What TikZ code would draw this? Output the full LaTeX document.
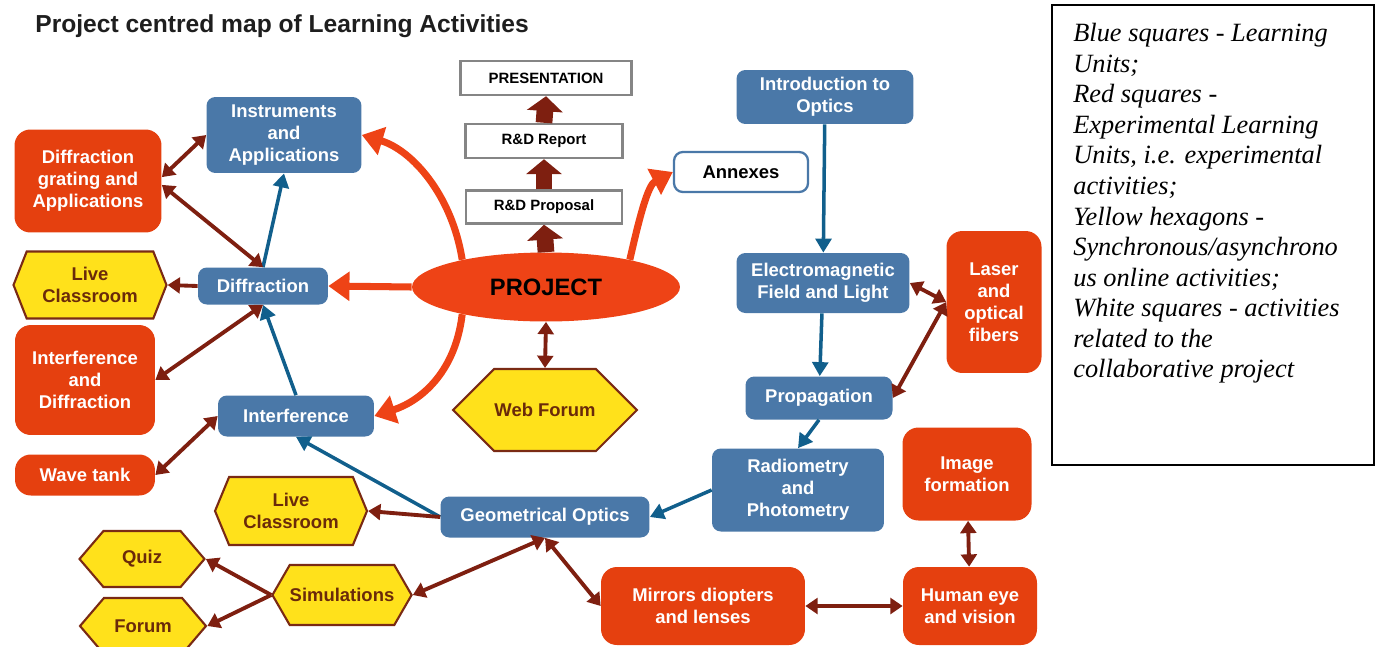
\documentclass[tikz,border=0pt]{standalone}
\usepackage{fontspec}
\setmainfont{Liberation Sans}
\newfontfamily\legendfont{Liberation Serif}
\usepackage{xcolor}
\definecolor{unitblue}{HTML}{4A78A8}
\definecolor{labred}{HTML}{E5400F}
\definecolor{hexyellow}{HTML}{FFE11B}
\definecolor{hexedge}{HTML}{7A2A14}
\definecolor{hextext}{HTML}{6A2A0A}
\definecolor{linkred}{HTML}{7E1F10}
\definecolor{arrblue}{HTML}{115F8C}
\definecolor{projorange}{HTML}{EE4316}
\definecolor{boxgray}{HTML}{858585}
\definecolor{titlegray}{HTML}{1E1E1E}
\usetikzlibrary{
  arrows.meta,
  shapes.geometric,
  shapes.symbols
}

\begin{document}
\begin{tikzpicture}[
  x=0.02cm, y=-0.02cm,
  every node/.style={
    font=\fontsize{10.5}{12.5}\selectfont\bfseries,
    align=center,
    inner sep=2pt
  },
  unit/.style={
    fill=unitblue,
    text=white,
    rounded corners=5pt
  },
  labunit/.style={
    fill=labred,
    text=white,
    rounded corners=9pt
  },
  online/.style={
    shape=signal,
    signal to=east and west,
    draw=hexedge,
    line width=1.2pt,
    fill=hexyellow,
    text=hextext
  },
  projbox/.style={
    draw=boxgray,
    line width=1.4pt,
    fill=white,
    font=\fontsize{8.5}{10}\selectfont\bfseries
  },
  arr/.style={
    -{Triangle[width=9pt,length=8pt]},
    line width=2pt,
    draw=arrblue
  },
  link/.style={
    {Triangle[width=9pt,length=7pt]}-{Triangle[width=9pt,length=7pt]},
    line width=2.2pt,
    draw=linkred
  },
  feed/.style={
    -{Triangle[width=9pt,length=7pt]},
    line width=2.2pt,
    draw=linkred
  },
  spoke/.style={
    -{Triangle[width=16pt,length=12pt]},
    line width=4pt,
    draw=projorange
  },
  stage/.style={
    -{Triangle[width=20pt,length=8.5pt]},
    line width=9.5pt,
    draw=linkred
  }
]
\useasboundingbox (0,0) rectangle (1378,646);

% Title
\node[anchor=base west, inner sep=0pt, text=titlegray,
      font=\fontsize{14}{16}\selectfont\bfseries] (title) at (35,32)
  {Project centred map of Learning Activities};

% Centre: project and its stages
\node[ellipse, fill=projorange, minimum width=5.36cm, minimum height=1.38cm,
      font=\fontsize{13.5}{16}\selectfont\bfseries] (project) at (546,287) {PROJECT};
\node[projbox, minimum width=3.12cm, minimum height=0.66cm] (proposal) at (544,207) {R\&D Proposal};
\node[projbox, minimum width=3.14cm, minimum height=0.68cm] (report) at (544,141) {R\&D Report};
\node[projbox, minimum width=3.42cm, minimum height=0.68cm] (present) at (546,78) {PRESENTATION};
\node[draw=unitblue, line width=1.3pt, fill=white, rounded corners=5pt,
      minimum width=2.68cm, minimum height=0.80cm] (annexes) at (741,172) {Annexes};
\node[online, inner xsep=0pt, signal pointer angle=90, minimum width=3.68cm, minimum height=1.64cm]
  (webforum) at (545,410) {Web Forum};

% Left branch: diffraction and interference
\node[unit, minimum width=3.10cm, minimum height=1.52cm] (instr) at (284,135) {Instruments\\and\\Applications};
\node[labunit, minimum width=2.94cm, minimum height=2.06cm] (grating) at (88,181) {Diffraction\\grating and\\Applications};
\node[online, signal pointer angle=137, minimum width=3.06cm, minimum height=1.34cm]
  (liveA) at (90,285) {Live\\Classroom};
\node[unit, minimum width=2.60cm, minimum height=0.74cm] (diffr) at (263,286) {Diffraction};
\node[labunit, minimum width=2.80cm, minimum height=2.20cm] (intdiff) at (85,380) {Interference\\and\\Diffraction};
\node[unit, minimum width=3.12cm, minimum height=0.82cm] (interf) at (296,416) {Interference};
\node[labunit, minimum width=2.80cm, minimum height=0.82cm] (wave) at (85,475) {Wave tank};

% Bottom: geometrical optics and online activities
\node[online, signal pointer angle=135, minimum width=3.04cm, minimum height=1.36cm]
  (liveB) at (291,511) {Live\\Classroom};
\node[online, signal pointer angle=99, minimum width=2.50cm, minimum height=1.12cm]
  (quiz) at (142,559) {Quiz};
\node[online, signal pointer angle=99, minimum width=2.52cm, minimum height=1.12cm]
  (forum) at (143,626) {Forum};
\node[online, inner xsep=0pt, signal pointer angle=120, minimum width=2.64cm, minimum height=1.20cm]
  (sims) at (342,595) {Simulations};
\node[unit, minimum width=4.18cm, minimum height=0.82cm] (geom) at (545,517) {Geometrical Optics};
\node[labunit, minimum width=4.08cm, minimum height=1.56cm] (mirrors) at (703,606) {Mirrors diopters\\and lenses};

% Right branch: optics chain
\node[unit, minimum width=3.54cm, minimum height=1.08cm] (intro) at (825,97) {Introduction to\\Optics};
\node[unit, minimum width=3.46cm, minimum height=1.20cm] (emfield) at (823,283) {Electromagnetic\\Field and Light};
\node[labunit, minimum width=1.90cm, minimum height=2.84cm] (laser) at (994,302) {Laser\\and\\optical\\fibers};
\node[unit, minimum width=2.94cm, minimum height=0.86cm] (propag) at (819,398) {Propagation};
\node[unit, minimum width=3.44cm, minimum height=1.66cm] (radio) at (798,490) {Radiometry\\and\\Photometry};
\node[labunit, minimum width=2.58cm, minimum height=1.86cm] (image) at (967,474) {Image\\formation};
\node[labunit, minimum width=2.68cm, minimum height=1.56cm] (eye) at (970,606) {Human eye\\and vision};

% Legend
\draw[line width=1pt] (1052,5) rectangle (1374,465);
\node[anchor=north west, align=left, inner sep=0pt,
      font=\legendfont\itshape\fontsize{15}{17.4}\selectfont] (legend) at (1073,23)
  {Blue squares - Learning\\Units;\\Red squares -\\Experimental Learning\\
   Units, i.e. experimental\\activities;\\Yellow hexagons -\\Synchronous/asynchrono\\
   us online activities;\\White squares - activities\\related to the\\collaborative project};

% Project spokes
\draw[spoke] (project.west) -- (diffr.east);
\draw[spoke] (project.162) .. controls (452,195) and (412,150) .. (instr.east);
\draw[spoke] (project.198) .. controls (455,375) and (418,402) .. (interf.east);
\draw[spoke] (project.18) .. controls (640,215) and (648,185) .. (annexes.west);

% Project stages
\draw[stage] (project.north) -- (proposal.south);
\draw[stage] (proposal.north) -- (report.south);
\draw[stage] (report.north) -- (present.south);
\draw[link] (project.south) -- (webforum.north);

% Learning unit sequence
\draw[arr] (intro) -- (emfield);
\draw[arr] (emfield) -- (propag);
\draw[arr] (propag.south) -- (radio.north);
\draw[arr] (radio.west) -- (geom.east);
\draw[arr] (geom.west) -- (interf.south);
\draw[arr] (interf.north) -- (diffr.south);
\draw[arr] (diffr.north) -- (instr.south);

% Experimental and online links
\draw[link] (grating.3) -- (instr.west);
\draw[link] (grating.-3) -- (diffr.north);
\draw[feed] (diffr.west) -- (liveA.east);
\draw[link] (diffr.south) -- (intdiff.east);
\draw[link] (interf.west) -- (wave.east);
\draw[feed] (geom.west) -- (liveB.east);
\draw[link] (geom.south) -- (sims.east);
\draw[link] (geom.south) -- (mirrors.west);
\draw[feed] (sims.west) -- (quiz.east);
\draw[feed] (sims.west) -- (forum.east);
\draw[link] (mirrors) -- (eye);
\draw[link] (image) -- (eye);
\draw[link] (emfield.east) -- (laser.west);
\draw[link] (propag.east) -- (laser.west);

\end{tikzpicture}
\end{document}
